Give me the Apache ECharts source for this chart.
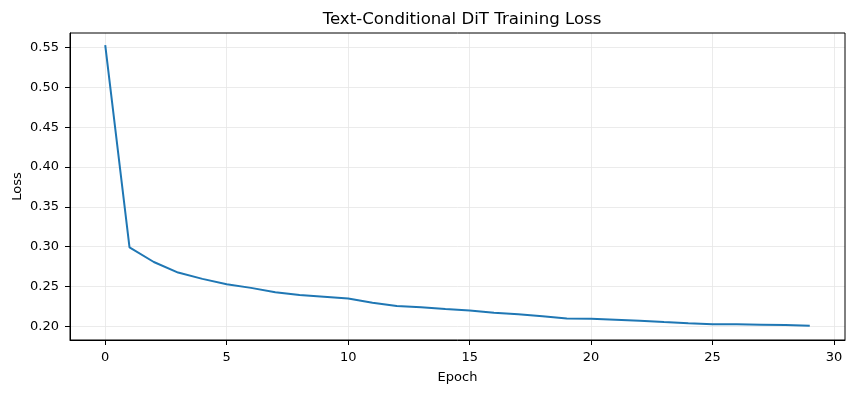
<!DOCTYPE html>
<html>
<head>
<meta charset="utf-8">
<script src="https://cdn.jsdelivr.net/npm/echarts@6/dist/echarts.min.js"></script>
<style>
html,body{margin:0;padding:0;background:#fff;}
#chart{width:854px;height:393px;}
</style>
</head>
<body>
<div id="chart"></div>
<script>
const epochs = [0,1,2,3,4,5,6,7,8,9,10,11,12,13,14,15,16,17,18,19,20,21,22,23,24,25,26,27,28,29];
const losses = [0.5533,0.2992,0.2808,0.2675,0.2596,0.2529,0.2483,0.2429,0.2392,0.2371,0.2350,
                0.2296,0.2254,0.2238,0.2217,0.2200,0.2171,0.2150,0.2125,0.2097,0.2094,
                0.2083,0.2071,0.2054,0.2038,0.2025,0.2025,0.2021,0.2015,0.2008];
const xTicks = [0,5,10,15,20,25,30];
const yTicks = [0.20,0.25,0.30,0.35,0.40,0.45,0.50,0.55];

const font = 'DejaVu Sans';
const chart = echarts.init(document.getElementById('chart'), null, {renderer:'canvas'});
const gridLine = {show:true, lineStyle:{color:'#e6e6e6', width:0.8}};
chart.setOption({
  animation:false,
  backgroundColor:'#fff',
  title:{
    text:'Text-Conditional DiT Training Loss',
    left:457, top:6, textAlign:'center',
    textStyle:{fontFamily:font, fontSize:16.6, fontWeight:'normal', color:'#000'}
  },
  grid:{left:70, right:9, top:33, bottom:53, containLabel:false, outerBoundsMode:'none'},
  xAxis:{
    type:'value', min:-1.45, max:30.45,
    name:'Epoch', nameLocation:'middle', nameGap:31, nameMoveOverlap:false,
    nameTextStyle:{fontFamily:font, fontSize:13, color:'#000'},
    axisLine:{show:true, onZero:false, lineStyle:{color:'#000', width:1}},
    axisTick:{show:true, customValues:xTicks, length:5, inside:false, lineStyle:{color:'#000', width:1}},
    axisLabel:{customValues:xTicks, fontFamily:font, fontSize:13, color:'#000', margin:11,
      formatter:v=>String(v)},
    splitLine:Object.assign({customValues:xTicks}, gridLine)
  },
  yAxis:{
    type:'value', min:0.1828, max:0.5685,
    name:'Loss', nameLocation:'middle', nameGap:46, nameRotate:90, nameMoveOverlap:false,
    nameTextStyle:{fontFamily:font, fontSize:13, color:'#000'},
    axisLine:{show:true, onZero:false, lineStyle:{color:'#000', width:1}},
    axisTick:{show:true, customValues:yTicks, length:5, inside:false, lineStyle:{color:'#000', width:1}},
    axisLabel:{customValues:yTicks, fontFamily:font, fontSize:13, color:'#000', margin:11,
      formatter:v=>v.toFixed(2)},
    splitLine:Object.assign({customValues:yTicks}, gridLine)
  },
  series:[{
    type:'line',
    data:epochs.map((e,i)=>[e, losses[i]]),
    showSymbol:false, symbol:'none',
    lineStyle:{color:'#1f77b4', width:2},
    itemStyle:{color:'#1f77b4'}
  }]
});
const g = chart.getModel().getComponent('grid').coordinateSystem.getRect();
chart.setOption({graphic:[{type:'rect', shape:{x:g.x, y:g.y, width:g.width, height:g.height},
  style:{fill:null, stroke:'#000', lineWidth:1}, silent:true, z:100}]});
</script>
</body>
</html>
